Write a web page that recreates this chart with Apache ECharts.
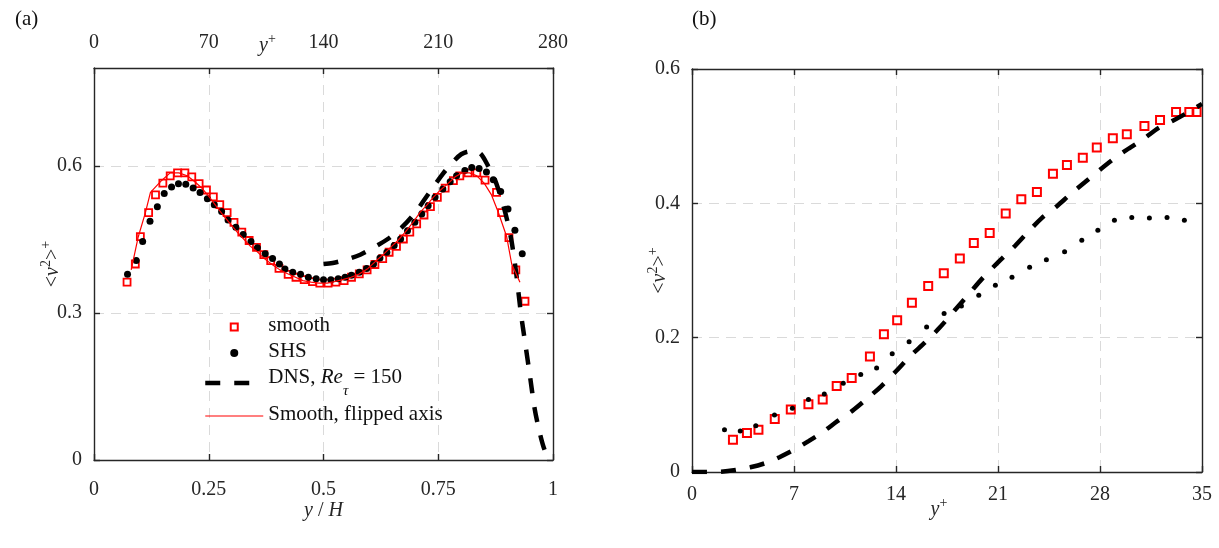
<!DOCTYPE html>
<html>
<head>
<meta charset="utf-8">
<script src="https://cdn.jsdelivr.net/npm/echarts@6/dist/echarts.min.js"></script>
<style>
  html, body { margin: 0; padding: 0; background: #ffffff; }
  #chart { width: 1219px; height: 548px; }
</style>
</head>
<body>
<div id="chart"></div>
<script>
// ---------- Panel (a): profiles across the channel, y/H from 0 to 1 ----------
const smoothX = [0.072,0.090,0.101,0.119,0.134,0.150,0.166,0.182,0.198,0.213,0.229,0.245,0.260,0.274,0.290,0.305,0.322,0.338,0.354,0.370,0.385,0.403,0.423,0.440,0.458,0.476,0.492,0.510,0.527,0.545,0.561,0.578,0.595,0.612,0.629,0.643,0.659,0.674,0.688,0.703,0.719,0.733,0.748,0.765,0.783,0.797,0.815,0.834,0.852,0.877,0.888,0.904,0.919,0.939];
const smoothY = [0.363,0.400,0.456,0.505,0.541,0.565,0.580,0.586,0.586,0.578,0.564,0.551,0.537,0.521,0.505,0.485,0.465,0.448,0.434,0.419,0.407,0.391,0.379,0.373,0.368,0.364,0.361,0.361,0.363,0.366,0.373,0.380,0.388,0.399,0.411,0.424,0.436,0.451,0.465,0.482,0.500,0.517,0.536,0.555,0.570,0.580,0.586,0.586,0.571,0.546,0.505,0.454,0.388,0.324];

const shsX = [0.073,0.092,0.106,0.122,0.138,0.153,0.169,0.184,0.200,0.216,0.231,0.247,0.262,0.278,0.292,0.309,0.325,0.342,0.356,0.373,0.389,0.404,0.416,0.433,0.450,0.467,0.484,0.500,0.516,0.532,0.547,0.561,0.578,0.594,0.609,0.623,0.638,0.654,0.668,0.683,0.699,0.714,0.728,0.743,0.760,0.776,0.790,0.808,0.823,0.839,0.855,0.870,0.886,0.902,0.917,0.933];
const shsY = [0.379,0.407,0.446,0.487,0.517,0.544,0.557,0.564,0.563,0.555,0.546,0.533,0.521,0.507,0.490,0.475,0.460,0.446,0.433,0.421,0.411,0.400,0.390,0.383,0.379,0.373,0.370,0.368,0.368,0.370,0.373,0.377,0.383,0.391,0.400,0.412,0.424,0.438,0.451,0.468,0.485,0.502,0.519,0.536,0.553,0.568,0.580,0.591,0.597,0.595,0.588,0.572,0.548,0.512,0.469,0.421];

const dnsX = [0.500,0.520,0.550,0.580,0.610,0.640,0.670,0.700,0.730,0.760,0.780,0.800,0.820,0.840,0.860,0.870,0.880,0.890,0.900,0.910,0.920,0.930,0.940,0.950,0.960,0.970,0.980,0.990,1.000];
const dnsY = [0.400,0.402,0.409,0.419,0.434,0.451,0.474,0.505,0.545,0.584,0.606,0.624,0.630,0.627,0.598,0.580,0.555,0.525,0.490,0.445,0.380,0.300,0.235,0.170,0.105,0.060,0.025,0.006,0.000];

const flipX = [0.928,0.910,0.899,0.881,0.866,0.850,0.834,0.818,0.802,0.787,0.771,0.755,0.740,0.726,0.710,0.695,0.678,0.662,0.646,0.630,0.615,0.597,0.577,0.560,0.542,0.524,0.508,0.490,0.473,0.455,0.439,0.422,0.405,0.388,0.371,0.357,0.341,0.326,0.312,0.297,0.281,0.267,0.252,0.235,0.217,0.203,0.185,0.166,0.148,0.123,0.112,0.096,0.081];
const flipY = [0.363,0.400,0.456,0.505,0.541,0.565,0.580,0.586,0.586,0.578,0.564,0.551,0.537,0.521,0.505,0.485,0.465,0.448,0.434,0.419,0.407,0.391,0.379,0.373,0.368,0.364,0.361,0.361,0.363,0.366,0.373,0.380,0.388,0.399,0.411,0.424,0.436,0.451,0.465,0.482,0.500,0.517,0.536,0.555,0.570,0.580,0.586,0.586,0.571,0.546,0.505,0.454,0.388];

// ---------- Panel (b): near-wall region in wall units ----------
const smoothBX = [2.81,3.77,4.56,5.68,6.78,7.99,8.97,9.93,10.96,12.21,13.17,14.08,15.09,16.21,17.28,18.38,19.34,20.43,21.53,22.60,23.67,24.77,25.73,26.82,27.78,28.88,29.84,31.05,32.12,33.22,34.13,34.63];
const smoothBY = [0.048,0.058,0.063,0.079,0.093,0.101,0.108,0.128,0.140,0.172,0.205,0.226,0.252,0.277,0.296,0.318,0.341,0.356,0.385,0.406,0.417,0.444,0.457,0.468,0.483,0.497,0.503,0.515,0.524,0.536,0.536,0.536];

const shsBX = [2.23,3.31,4.38,5.66,6.89,7.99,9.08,10.38,11.58,12.67,13.74,14.90,16.10,17.30,18.49,19.68,20.82,21.96,23.17,24.32,25.57,26.75,27.85,28.99,30.18,31.39,32.60,33.79];
const shsBY = [0.063,0.061,0.069,0.085,0.095,0.108,0.116,0.132,0.145,0.155,0.176,0.194,0.216,0.236,0.247,0.263,0.278,0.290,0.305,0.316,0.328,0.345,0.360,0.375,0.379,0.378,0.379,0.375];

const dnsBX = [0,1,2,3,4,5,6,7,8,9,10,11,12,13,14,15,16,17,18,19,20,21,22,23,24,25,26,27,28,29,30,31,32,33,34,35];
const dnsBY = [0.000,0.000,0.0005,0.003,0.007,0.013,0.022,0.033,0.046,0.060,0.076,0.091,0.109,0.128,0.150,0.173,0.193,0.215,0.240,0.265,0.290,0.312,0.333,0.356,0.378,0.395,0.414,0.432,0.450,0.467,0.482,0.496,0.512,0.523,0.535,0.548];

// ---------- Tick values ----------
const yhTicks = [0, 0.25, 0.5, 0.75, 1];
const yplusTopTicks = [0, 70, 140, 210, 280];
const v2TicksA = [0, 0.3, 0.6];
const v2TopA = 0.8;
const yplusTicksB = [0, 7, 14, 21, 28, 35];
const v2TicksB = [0, 0.2, 0.4, 0.6];

// ---------- Styling helpers ----------
const SERIF = 'Liberation Serif';
const INK = '#262626';
const GRIDC = '#dadada';
const CLEAR = 'rgba(255,255,255,0)';
const pairs = (xs, ys) => xs.map((x, i) => [x, ys[i]]);
const step = t => t[1] - t[0];

// Legend key: a small hollow square centred in the 58 x 8 key box
const SQUARE_KEY = 'path://M0,0M58,8M25.5,0.5h7v7h-7z';

function rich(size) {
  return {
    n:   { fontFamily: SERIF, fontSize: size, color: INK },
    i:   { fontFamily: SERIF, fontSize: size, color: INK, fontStyle: 'italic' },
    sup: { fontFamily: SERIF, fontSize: Math.round(size * 0.7), color: INK, padding: [0, 0, 14, 0] }
  };
}

function axis(opts) {
  const base = {
    type: 'value',
    nameMoveOverlap: false,
    axisLine: { show: true, onZero: false, lineStyle: { color: INK, width: 1.4 } },
    axisTick: { show: true, inside: true, length: 6, lineStyle: { color: INK, width: 1.4 } },
    axisLabel: { show: true, fontFamily: SERIF, fontSize: 20, color: INK },
    splitLine: { show: false },
    nameTextStyle: { rich: rich(20) }
  };
  const out = Object.assign({}, base, opts);
  if (opts.axisLabel) out.axisLabel = Object.assign({}, base.axisLabel, opts.axisLabel);
  return out;
}
const dashedGrid = { show: true, lineStyle: { color: GRIDC, width: 1, type: [10, 7] } };

const legendText = {
  'smooth': '{n|smooth}',
  'SHS': '{n|SHS}',
  'DNS, Re_tau = 150': '{n|DNS, }{i|Re}{s|τ}{n| = 150}',
  'Smooth, flipped axis': '{n|Smooth, flipped axis}'
};

const option = {
  animation: false,
  backgroundColor: '#ffffff',
  title: [
    { text: '(a)', left: 10, top: 4, textStyle: { fontFamily: SERIF, fontSize: 21, fontWeight: 'normal', color: '#111' } },
    { text: '(b)', left: 687, top: 4, textStyle: { fontFamily: SERIF, fontSize: 21, fontWeight: 'normal', color: '#111' } }
  ],
  grid: [
    { left: 94, right: 666, top: 68, bottom: 88, outerBoundsMode: 'none' },
    { left: 692, right: 17, top: 69, bottom: 76, outerBoundsMode: 'none' }
  ],
  xAxis: [
    axis({
      gridIndex: 0, position: 'bottom',
      min: yhTicks[0], max: yhTicks[yhTicks.length - 1], interval: step(yhTicks),
      axisLabel: { margin: 20 },
      splitLine: dashedGrid,
      name: '{i|y}{n| / }{i|H}', nameLocation: 'middle', nameGap: 41
    }),
    axis({
      gridIndex: 0, position: 'top',
      min: yplusTopTicks[0], max: yplusTopTicks[yplusTopTicks.length - 1], interval: step(yplusTopTicks),
      axisLabel: { margin: 15 },
      name: '{i|y}{sup|+}', nameLocation: 'middle', nameGap: 8,
      nameTextStyle: { rich: rich(20), padding: [0, 112, 0, 0] }
    }),
    axis({
      gridIndex: 1, position: 'bottom',
      min: yplusTicksB[0], max: yplusTicksB[yplusTicksB.length - 1], interval: step(yplusTicksB),
      axisLabel: { margin: 13 },
      splitLine: dashedGrid,
      name: '{i|y}{sup|+}', nameLocation: 'middle', nameGap: 24,
      nameTextStyle: { rich: rich(20), padding: [0, 16, 0, 0] }
    }),
    axis({
      gridIndex: 1, position: 'top',
      min: yplusTicksB[0], max: yplusTicksB[yplusTicksB.length - 1], interval: step(yplusTicksB),
      axisLabel: { show: false }
    })
  ],
  yAxis: [
    axis({
      gridIndex: 0, position: 'left',
      min: v2TicksA[0], max: v2TopA, interval: step(v2TicksA),
      axisLabel: { margin: 12, showMaxLabel: false },
      splitLine: dashedGrid,
      name: '{n|<}{i|v}{sup|2}{n|>}{sup|+}', nameLocation: 'middle', nameRotate: 90, nameGap: 27
    }),
    axis({
      gridIndex: 0, position: 'right',
      min: v2TicksA[0], max: v2TopA, interval: step(v2TicksA),
      axisLabel: { show: false }
    }),
    axis({
      gridIndex: 1, position: 'left',
      min: v2TicksB[0], max: v2TicksB[v2TicksB.length - 1], interval: step(v2TicksB),
      axisLabel: { margin: 12 },
      splitLine: dashedGrid,
      name: '{n|<}{i|v}{sup|2}{n|>}{sup|+}', nameLocation: 'middle', nameRotate: 90, nameGap: 18
    }),
    axis({
      gridIndex: 1, position: 'right',
      min: v2TicksB[0], max: v2TicksB[v2TicksB.length - 1], interval: step(v2TicksB),
      axisLabel: { show: false }
    })
  ],
  legend: {
    orient: 'vertical', left: 198, top: 310,
    itemWidth: 58, itemHeight: 8, itemGap: 5,
    symbolKeepAspect: true,
    selectedMode: false,
    data: [
      { name: 'smooth', icon: SQUARE_KEY },
      { name: 'SHS' },
      { name: 'DNS, Re_tau = 150', itemStyle: { opacity: 0, color: CLEAR, borderWidth: 0 } },
      { name: 'Smooth, flipped axis', itemStyle: { opacity: 0, color: CLEAR, borderWidth: 0 } }
    ],
    formatter: name => legendText[name],
    lineStyle: { width: 'inherit' },
    textStyle: {
      fontFamily: SERIF, fontSize: 21, color: '#111',
      rich: {
        n: { fontFamily: SERIF, fontSize: 21, color: '#111', lineHeight: 24, verticalAlign: 'top' },
        i: { fontFamily: SERIF, fontSize: 21, color: '#111', fontStyle: 'italic', lineHeight: 24, verticalAlign: 'top' },
        s: { fontFamily: SERIF, fontSize: 15, color: '#111', fontStyle: 'italic', verticalAlign: 'top', padding: [17, 0, 0, 0] }
      }
    }
  },
  series: [
    {
      name: 'smooth', type: 'scatter', xAxisIndex: 0, yAxisIndex: 0,
      symbol: 'rect', symbolSize: 7, symbolKeepAspect: true,
      itemStyle: { color: CLEAR, borderColor: '#ff0000', borderWidth: 1.8, opacity: 1 },
      data: pairs(smoothX, smoothY), z: 2
    },
    {
      name: 'SHS', type: 'scatter', xAxisIndex: 0, yAxisIndex: 0,
      symbol: 'circle', symbolSize: 7, symbolKeepAspect: true,
      itemStyle: { color: '#000000', opacity: 1 },
      data: pairs(shsX, shsY), z: 3
    },
    {
      name: 'DNS, Re_tau = 150', type: 'line', xAxisIndex: 0, yAxisIndex: 0,
      symbol: 'none', smooth: 0.3,
      itemStyle: { color: CLEAR },
      lineStyle: { color: '#000000', width: 4.5, type: [15, 14] },
      data: pairs(dnsX, dnsY), z: 4
    },
    {
      name: 'Smooth, flipped axis', type: 'line', xAxisIndex: 0, yAxisIndex: 0,
      symbol: 'none',
      itemStyle: { color: CLEAR },
      lineStyle: { color: '#ff0000', width: 1.2 },
      data: pairs(flipX, flipY), z: 5
    },
    {
      name: 'smooth near wall', type: 'scatter', xAxisIndex: 2, yAxisIndex: 2,
      symbol: 'rect', symbolSize: 8,
      itemStyle: { color: CLEAR, borderColor: '#ff0000', borderWidth: 2, opacity: 1 },
      data: pairs(smoothBX, smoothBY), z: 2
    },
    {
      name: 'SHS near wall', type: 'scatter', xAxisIndex: 2, yAxisIndex: 2,
      symbol: 'circle', symbolSize: 5,
      itemStyle: { color: '#000000', opacity: 1 },
      data: pairs(shsBX, shsBY), z: 3
    },
    {
      name: 'DNS near wall', type: 'line', xAxisIndex: 2, yAxisIndex: 2,
      symbol: 'none', smooth: 0.3,
      itemStyle: { color: CLEAR },
      lineStyle: { color: '#000000', width: 4.5, type: [15, 14] },
      data: pairs(dnsBX, dnsBY), z: 4
    }
  ]
};

const chart = echarts.init(document.getElementById('chart'), null, { renderer: 'canvas' });
chart.setOption(option);
</script>
</body>
</html>
